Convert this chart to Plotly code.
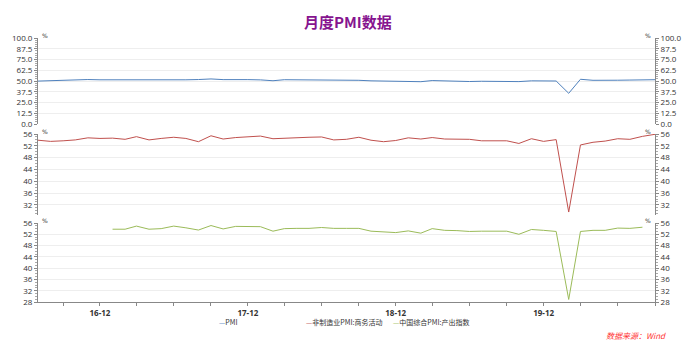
import plotly.graph_objects as go

months_pmi = [f"{y}-{m:02d}-01" for y in range(2016, 2021) for m in range(1, 13)]
months_pmi = [d for d in months_pmi if "2016-07-01" <= d <= "2020-09-01"]

pmi = [49.9, 50.4, 50.4, 51.2, 51.7, 51.4,
       51.3, 51.6, 51.8, 51.2, 51.2, 51.7, 51.4, 51.7, 52.4, 51.6, 51.8, 51.6,
       51.3, 50.3, 51.5, 51.4, 51.9, 51.5, 51.2, 51.3, 50.8, 50.2, 50.0, 49.4,
       49.5, 49.2, 50.5, 50.1, 49.4, 49.4, 49.7, 49.5, 49.8, 49.3, 50.2, 50.2,
       50.0, 35.7, 52.0, 50.8, 50.6, 50.9, 51.1, 51.0, 51.5]

nonmfg = [53.9, 53.5, 53.7, 54.0, 54.7, 54.5,
          54.6, 54.2, 55.1, 54.0, 54.5, 54.9, 54.5, 53.4, 55.4, 54.3, 54.8, 55.0,
          55.3, 54.4, 54.6, 54.8, 54.9, 55.0, 54.0, 54.2, 54.9, 53.9, 53.4, 53.8,
          54.7, 54.3, 54.8, 54.3, 54.3, 54.2, 53.7, 53.8, 53.7, 52.8, 54.4, 53.5,
          54.1, 29.6, 52.3, 53.2, 53.6, 54.4, 54.2, 55.2, 55.9]

months_comp = [d for d in months_pmi if "2017-01-01" <= d <= "2020-08-01"]
composite = [53.8, 53.8, 54.9, 53.8, 54.0, 54.9, 54.3, 53.5, 55.1, 53.9, 54.8, 54.8,
             54.7, 53.1, 54.0, 54.1, 54.1, 54.4, 54.1, 54.1, 54.1, 53.1, 52.8, 52.6,
             53.2, 52.4, 54.0, 53.4, 53.3, 53.0, 53.1, 53.0, 53.1, 52.0, 53.7, 53.4,
             53.0, 28.9, 53.0, 53.4, 53.4, 54.2, 54.1, 54.5]

names = ["PMI", "非制造业PMI:商务活动", "中国综合PMI:产出指数"]
colors = ["#4F81BD", "#C0504D", "#9BBB59"]

xtick_vals = [f"{y}-{m:02d}-01" for y in range(2016, 2021) for m in (3, 6, 9, 12)]
xtick_vals = [d for d in xtick_vals if "2016-07-01" <= d <= "2020-09-01"]
xtick_text = [d[2:4] + "-12" if d[5:7] == "12" else "" for d in xtick_vals]

y1_ticks = [0, 12.5, 25, 37.5, 50, 62.5, 75, 87.5, 100]
y1_text = [f"{v:.1f}" for v in y1_ticks]
y2_ticks = [32, 36, 40, 44, 48, 52, 56]
y3_ticks = [28, 32, 36, 40, 44, 48, 52, 56]

fig = go.Figure()
series = [(months_pmi, pmi, "y"), (months_pmi, nonmfg, "y2"), (months_comp, composite, "y3")]
for i, (xs, ys, ya) in enumerate(series):
    fig.add_trace(go.Scatter(x=xs, y=ys, mode="lines", name=names[i], yaxis=ya,
                             line=dict(color=colors[i], width=1), showlegend=False))
# twins for right-side axes
for i, (xs, ys, ya) in enumerate(series):
    fig.add_trace(go.Scatter(x=xs, y=ys, mode="lines", yaxis="y" + str(i + 4),
                             line=dict(color=colors[i], width=0), opacity=0,
                             showlegend=False, hoverinfo="skip"))

H = 351
t, b = 38, 49
ph = H - t - b
def dom(top_px, bot_px):
    return [1 - (bot_px - t) / ph, 1 - (top_px - t) / ph]

d1 = dom(38, 124)
d2 = dom(134, 215)
d3 = dom(223, 302)

tickfont = dict(family="Open Sans, DejaVu Sans", size=8, color="#333333")
base_y = dict(showline=True, linecolor="#888888", linewidth=1, ticks="outside",
              ticklen=3, tickcolor="#888888", tickfont=tickfont,
              showgrid=True, gridcolor="#EEEEEE", zeroline=False, fixedrange=True)

def yax(dmn, rng, tv, tt, side, overlay=None, grid=True, minor_dt=None):
    d = dict(base_y)
    d.update(domain=dmn, range=rng, tickvals=tv, ticktext=tt, side=side,
             anchor="x", showgrid=grid,
             minor=dict(ticks="outside", ticklen=2, tickcolor="#AAAAAA", dtick=minor_dt, showgrid=False))
    if overlay:
        d.update(overlaying=overlay)
    return d

fig.update_layout(
    width=693, height=351,
    margin=dict(l=38, r=34, t=t, b=b),
    paper_bgcolor="white", plot_bgcolor="white",
    title=dict(text="<b>月度PMI数据</b>", x=0.502, xanchor="center", y=0.935, yanchor="middle",
               font=dict(family="Noto Sans CJK SC", size=15, color="#86148F")),
    xaxis=dict(type="date", range=["2016-07-01", "2020-09-01"], tickvals=xtick_vals,
               ticktext=xtick_text, ticks="outside", ticklen=3, tickcolor="#888888",
               showline=True, linecolor="#888888", showgrid=False, zeroline=False,
               tickfont=dict(family="Open Sans, DejaVu Sans", size=8, color="#333333", weight="bold"),
               anchor="y3", fixedrange=True),
    yaxis=yax(d1, [0, 100], y1_ticks, y1_text, "left", minor_dt=2.5),
    yaxis2=yax(d2, [28.6, 56], y2_ticks, [str(v) for v in y2_ticks], "left", minor_dt=1),
    yaxis3=yax(d3, [28, 56], y3_ticks, [str(v) for v in y3_ticks], "left", minor_dt=1),
    yaxis4=yax(d1, [0, 100], y1_ticks, y1_text, "right", overlay="y", grid=False, minor_dt=2.5),
    yaxis5=yax(d2, [28.6, 56], y2_ticks, [str(v) for v in y2_ticks], "right", overlay="y2", grid=False, minor_dt=1),
    yaxis6=yax(d3, [28, 56], y3_ticks, [str(v) for v in y3_ticks], "right", overlay="y3", grid=False, minor_dt=1),
)

# "%" unit marks at top of each axis
for dmn in (d1, d2, d3):
    for xp, xa in ((0.0, "left"), (1.0, "right")):
        fig.add_annotation(xref="paper", yref="paper", x=xp, y=dmn[1], text="%",
                           showarrow=False, xanchor=xa, yanchor="bottom",
                           xshift=2 if xa == "left" else -2, yshift=-3,
                           font=dict(family="DejaVu Sans", size=6, color="#333333"))

# legend built from the series names/colors
leg_x = [218, 306, 393]
for i in range(3):
    fig.add_annotation(xref="paper", yref="paper", x=(leg_x[i] - 38) / (693 - 72), y=-(322 - 302) / ph,
                       xanchor="left", yanchor="middle", showarrow=False,
                       text=f"<span style='color:{colors[i]}'>—</span>{names[i]}",
                       font=dict(family="Noto Sans CJK SC", size=7, color="#333333"))

fig.add_annotation(xref="paper", yref="paper", x=(672 - 38) / (693 - 72), y=-(335 - 302) / ph,
                   xanchor="right", yanchor="middle", showarrow=False,
                   text="<i>数据来源：Wind</i>",
                   font=dict(family="Noto Sans CJK SC", size=8, color="#FF3333"))

fig.write_html("out.html")
